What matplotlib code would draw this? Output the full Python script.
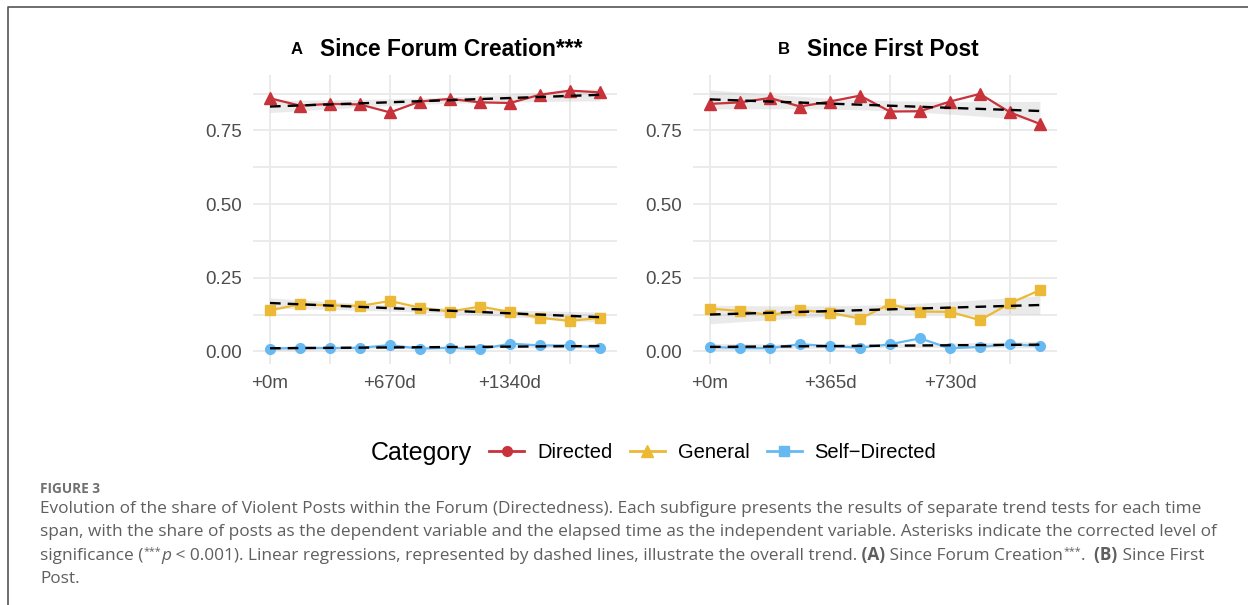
import numpy as np
import matplotlib
matplotlib.use("Agg")
import matplotlib.pyplot as plt
from matplotlib.lines import Line2D

plt.rcParams['font.family'] = ['Liberation Sans', 'DejaVu Sans']

# elapsed days per bin
days_a = [0, 167.5, 335, 502.5, 670, 837.5, 1005, 1172.5, 1340, 1507.5, 1675, 1842.5]
days_b = [0, 91.25, 182.5, 273.75, 365, 456.25, 547.5, 638.75, 730, 821.25, 912.5, 1003.75]

# share of posts, since forum creation
directed_a = [0.859, 0.834, 0.840, 0.838, 0.811, 0.848, 0.857, 0.845, 0.843, 0.871, 0.885, 0.879]
general_a = [0.139, 0.160, 0.156, 0.154, 0.171, 0.148, 0.135, 0.152, 0.134, 0.114, 0.103, 0.114]
self_a = [0.009, 0.012, 0.011, 0.012, 0.021, 0.009, 0.012, 0.007, 0.026, 0.020, 0.020, 0.012]

# share of posts, since first post
directed_b = [0.840, 0.845, 0.860, 0.831, 0.848, 0.868, 0.814, 0.815, 0.848, 0.874, 0.811, 0.772]
general_b = [0.145, 0.137, 0.123, 0.140, 0.131, 0.111, 0.160, 0.135, 0.134, 0.106, 0.163, 0.208]
self_b = [0.015, 0.011, 0.011, 0.024, 0.018, 0.012, 0.024, 0.044, 0.010, 0.015, 0.024, 0.018]

categories = ["Directed", "General", "Self\u2212Directed"]
colors = ["#C8323A", "#EBB935", "#67B9F2"]
markers = ["^", "s", "o"]
msizes = [8.5, 6.5, 7]

ticks_a = [0, 670, 1340]
minor_a = [335, 1005, 1675]
labels_a = ["+0m", "+670d", "+1340d"]
ticks_b = [0, 365, 730]
minor_b = [182.5, 547.5, 912.5]
labels_b = ["+0m", "+365d", "+730d"]
yticks = [0.0, 0.25, 0.5, 0.75]
ylabels = ["0.00", "0.25", "0.50", "0.75"]

W, H = 1248, 605
fig = plt.figure(figsize=(W / 100, H / 100), dpi=100)


def px(x, y):
    return x / W, 1 - y / H


def trend(ax, x, y):
    x = np.asarray(x, float)
    y = np.asarray(y, float)
    b, a = np.polyfit(x, y, 1)
    n = len(x)
    res = y - (a + b * x)
    s = np.sqrt((res ** 2).sum() / (n - 2))
    sxx = ((x - x.mean()) ** 2).sum()
    xs = np.linspace(x.min(), x.max(), 100)
    fit = a + b * xs
    se = s * np.sqrt(1 / n + (xs - x.mean()) ** 2 / sxx)
    ax.fill_between(xs, fit - 2.228 * se, fit + 2.228 * se, color="#999999",
                    alpha=0.2, lw=0, zorder=2)
    ax.plot(xs, fit, color="black", lw=1.7, dashes=(4.5, 3), zorder=4)


def panel(rect, days, series, ticks, minor, labels, xlim):
    ax = fig.add_axes(rect)
    for vals, c, m, ms in zip(series, colors, markers, msizes):
        ax.plot(days, vals, color=c, lw=1.6, marker=m, ms=ms, zorder=3)
        trend(ax, days, vals)
    ax.set_xlim(*xlim)
    ax.set_ylim(-0.043, 0.938)
    ax.set_xticks(ticks)
    ax.set_xticklabels(labels)
    ax.set_xticks(minor, minor=True)
    ax.set_yticks(yticks)
    ax.set_yticklabels(ylabels)
    ax.set_yticks([0.125, 0.375, 0.625, 0.875], minor=True)
    ax.grid(True, which="both", color="#EBEBEB", lw=1.4)
    ax.set_axisbelow(True)
    for sp in ax.spines.values():
        sp.set_visible(False)
    ax.tick_params(which="both", length=0, labelsize=13.5, labelcolor="#4D4D4D", pad=8)
    return ax


x0, y0 = px(253, 364)
x1, y1 = px(617, 75)
panel([x0, y0, x1 - x0, y1 - y0], days_a, [directed_a, general_a, self_a],
      ticks_a, minor_a, labels_a, (-94.9, 1937.4))
x0, _ = px(693, 364)
x1, _ = px(1057, 75)
panel([x0, y0, x1 - x0, y1 - y0], days_b, [directed_b, general_b, self_b],
      ticks_b, minor_b, labels_b, (-51.7, 1055.5))

# panel titles
fig.text(*px(291, 50), "A", fontsize=12, fontweight="bold", va="center")
fig.text(*px(320, 50), "Since Forum Creation***", fontsize=16.4, fontweight="bold", va="center")
fig.text(*px(778, 50), "B", fontsize=12, fontweight="bold", va="center")
fig.text(*px(807, 50), "Since First Post", fontsize=16.4, fontweight="bold", va="center")

# legend (keys as drawn by the original)
fig.text(*px(371, 453), "Category", fontsize=18, va="center")
handles = [Line2D([], [], color=colors[0], lw=2, marker="o", ms=7),
           Line2D([], [], color=colors[1], lw=2, marker="^", ms=8),
           Line2D([], [], color=colors[2], lw=2, marker="s", ms=6.5)]
fig.legend(handles, categories, loc="center left", bbox_to_anchor=px(489, 453),
           ncol=3, frameon=False, fontsize=14.5, handlelength=1.74,
           handletextpad=0.65, columnspacing=0.85, borderpad=0, borderaxespad=0)

# caption
cap = "#5F5F5F"
cfs = 12.45
fig.text(*px(40, 489), "FIGURE 3", fontsize=9.8, color="#707070", family="Open Sans",
         fontweight="bold", va="center")
plain = [
    "Evolution of the share of Violent Posts within the Forum (Directedness). Each subfigure presents the results of separate trend tests for each time",
    "span, with the share of posts as the dependent variable and the elapsed time as the independent variable. Asterisks indicate the corrected level of",
]
for i, ln in enumerate(plain):
    fig.text(*px(40, 513 + 23.3 * i), ln, fontsize=cfs, color=cap, family="Open Sans",
             va="baseline")

renderer = fig.canvas.get_renderer()
segments = [
    ("significance (", {}, 0),
    ("***", {"fontsize": cfs * 0.62}, 5),
    ("p", {"style": "italic"}, 0),
    (" < 0.001). Linear regressions, represented by dashed lines, illustrate the overall trend.", {}, 0),
    (" (A)", {"fontweight": "bold"}, 0),
    (" Since Forum Creation", {}, 0),
    ("***", {"fontsize": cfs * 0.62}, 5),
    (".", {}, 0),
    ("  (B)", {"fontweight": "bold"}, 0),
    (" Since First", {}, 0),
]
xpos = 40
for txt, kw, rise in segments:
    opts = {"fontsize": cfs, "color": cap, "family": "Open Sans", "va": "baseline"}
    opts.update(kw)
    t = fig.text(*px(xpos, 513 + 23.3 * 2 - rise), txt, **opts)
    xpos += t.get_window_extent(renderer).width
fig.text(*px(40, 513 + 23.3 * 3), "Post.", fontsize=cfs, color=cap, family="Open Sans",
         va="baseline")

# frame around figure
fig.add_artist(Line2D([8 / W, 8 / W, 1], [0, 1 - 7 / H, 1 - 7 / H], color="#555555",
                      lw=1.2, transform=fig.transFigure))

fig.savefig("out.png", dpi=100)
